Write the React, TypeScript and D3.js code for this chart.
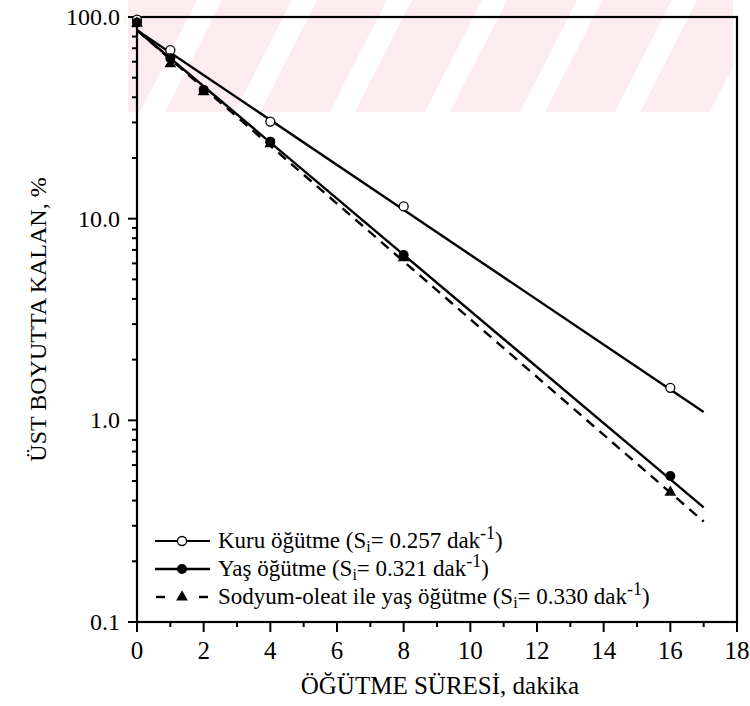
import React, { useRef, useEffect } from "react";
import * as d3 from "d3";

// grinding time, minutes
const times = [0, 1, 2, 4, 8, 16];
// % remaining in top size (null = point hidden in the original)
const kuru = [97, 68.5, null, 30.3, 11.5, 1.45];
const yas = [94, 62.5, 43.5, 24.1, 6.6, 0.53];
const sodyum = [93, 58.5, 42.5, 23.5, 6.4, 0.44];

// first-order fit lines (end points)
const fitTimes = [0, 17];
const kuruFit = [86, 1.1];
const yasFit = [86, 0.37];
const sodyumFit = [86, 0.315];

const xTicks = [0, 2, 4, 6, 8, 10, 12, 14, 16, 18];
const yTicks = [0.1, 1, 10, 100];
const yTickLabels = ["0.1", "1.0", "10.0", "100.0"];

const legendNames = ["Kuru öğütme", "Yaş öğütme", "Sodyum-oleat ile yaş öğütme"];
const legendRates = ["0.257", "0.321", "0.330"];

const FONT = "Liberation Serif, DejaVu Serif, serif";

const Chart = () => {
  const svgRef = useRef<SVGSVGElement>(null);
  const width = 750;
  const height = 706;
  const left = 137;
  const right = 737;
  const top = 17;
  const bottom = 622;

  useEffect(() => {
    const svg = d3.select(svgRef.current);
    svg.selectAll("*").remove();

    const x = d3.scaleLinear().domain([0, 18]).range([left, right]);
    const y = d3.scaleLog().domain([0.1, 100]).range([bottom, top]);

    // faint pink watermark stripes from the scan
    const defs = svg.append("defs");
    defs
      .append("clipPath")
      .attr("id", "wm")
      .append("rect")
      .attr("x", 128)
      .attr("y", 0)
      .attr("width", 605)
      .attr("height", 112);
    const wm = svg.append("g").attr("clip-path", "url(#wm)");
    d3.range(0, 9).forEach((i) => {
      const x0 = 70 + i * 95;
      wm.append("path")
        .attr("d", `M${x0},112 L${x0 + 70},112 L${x0 + 127},0 L${x0 + 57},0 Z`)
        .attr("fill", "#fdecef");
    });

    const g = svg.append("g").style("font-family", FONT);

    // frame
    g.append("rect")
      .attr("x", left)
      .attr("y", top)
      .attr("width", right - left)
      .attr("height", bottom - top)
      .attr("fill", "none")
      .attr("stroke", "#000")
      .attr("stroke-width", 2.2);

    // x ticks
    const xMinor = d3.range(1, 18, 2);
    g.selectAll(".xmaj")
      .data(xTicks)
      .enter()
      .append("line")
      .attr("x1", (d) => x(d))
      .attr("x2", (d) => x(d))
      .attr("y1", bottom)
      .attr("y2", bottom + 10)
      .attr("stroke", "#000")
      .attr("stroke-width", 2);
    g.selectAll(".xmin")
      .data(xMinor)
      .enter()
      .append("line")
      .attr("x1", (d) => x(d))
      .attr("x2", (d) => x(d))
      .attr("y1", bottom)
      .attr("y2", bottom + 5)
      .attr("stroke", "#000")
      .attr("stroke-width", 2);
    g.selectAll(".xlab")
      .data(xTicks)
      .enter()
      .append("text")
      .attr("x", (d) => x(d))
      .attr("y", bottom + 37)
      .attr("text-anchor", "middle")
      .style("font-family", FONT)
      .attr("font-size", 25)
      .text((d) => d);

    // y ticks
    const yMinor: number[] = [];
    [0.1, 1, 10].forEach((dec) => d3.range(2, 10).forEach((k) => yMinor.push(dec * k)));
    g.selectAll(".ymaj")
      .data(yTicks)
      .enter()
      .append("line")
      .attr("x1", left - 9)
      .attr("x2", left)
      .attr("y1", (d) => y(d))
      .attr("y2", (d) => y(d))
      .attr("stroke", "#000")
      .attr("stroke-width", 2);
    g.selectAll(".ymin")
      .data(yMinor)
      .enter()
      .append("line")
      .attr("x1", left - 5)
      .attr("x2", left)
      .attr("y1", (d) => y(d))
      .attr("y2", (d) => y(d))
      .attr("stroke", "#000")
      .attr("stroke-width", 2);
    g.selectAll(".ylab")
      .data(yTicks)
      .enter()
      .append("text")
      .attr("x", left - 17)
      .attr("y", (d) => y(d) + 8)
      .attr("text-anchor", "end")
      .style("font-family", FONT)
      .attr("font-size", 24)
      .text((d, i) => yTickLabels[i]);

    // axis titles
    g.append("text")
      .attr("x", 440)
      .attr("y", bottom + 72)
      .attr("text-anchor", "middle")
      .style("font-family", FONT)
      .attr("font-size", 25)
      .text("ÖĞÜTME SÜRESİ, dakika");
    g.append("text")
      .attr("transform", `translate(46,${(top + bottom) / 2}) rotate(-90)`)
      .attr("text-anchor", "middle")
      .style("font-family", FONT)
      .attr("font-size", 24)
      .text("ÜST BOYUTTA KALAN, %");

    // fit lines
    const line = d3
      .line<number>()
      .x((d, i) => x(fitTimes[i]))
      .y((d) => y(d));
    const fits = [kuruFit, yasFit, sodyumFit];
    fits.forEach((f, i) => {
      g.append("path")
        .attr("d", line(f))
        .attr("fill", "none")
        .attr("stroke", "#000")
        .attr("stroke-width", 2.4)
        .attr("stroke-dasharray", i === 2 ? "10,7" : null);
    });

    const tri = d3.symbol().type(d3.symbolTriangle).size(60);

    // markers
    g.selectAll(".kuru")
      .data(kuru.map((v, i) => ({ t: times[i], v })).filter((p) => p.v != null))
      .enter()
      .append("circle")
      .attr("cx", (d) => x(d.t))
      .attr("cy", (d) => y(d.v as number))
      .attr("r", 4.5)
      .attr("fill", "#fff")
      .attr("stroke", "#000")
      .attr("stroke-width", 1.3);
    g.selectAll(".sod")
      .data(sodyum)
      .enter()
      .append("path")
      .attr("d", tri())
      .attr("transform", (d, i) => `translate(${x(times[i])},${y(d)})`)
      .attr("fill", "#000");
    g.selectAll(".yas")
      .data(yas)
      .enter()
      .append("circle")
      .attr("cx", (d, i) => x(times[i]))
      .attr("cy", (d) => y(d))
      .attr("r", 5)
      .attr("fill", "#000");

    // legend
    const lg = g.append("g");
    const rowY = [541, 569, 597];
    legendNames.forEach((name, i) => {
      const ly = rowY[i];
      if (i < 2) {
        lg.append("line")
          .attr("x1", 155)
          .attr("x2", 210)
          .attr("y1", ly)
          .attr("y2", ly)
          .attr("stroke", "#000")
          .attr("stroke-width", i === 0 ? 2 : 2.4);
      } else {
        [[156, 165], [199, 208]].forEach(([a, b]) => {
          lg.append("line")
            .attr("x1", a)
            .attr("x2", b)
            .attr("y1", ly)
            .attr("y2", ly)
            .attr("stroke", "#000")
            .attr("stroke-width", 2.4);
        });
      }
      if (i === 0) {
        lg.append("circle")
          .attr("cx", 182)
          .attr("cy", ly)
          .attr("r", 4.5)
          .attr("fill", "#fff")
          .attr("stroke", "#000")
          .attr("stroke-width", 1.3);
      } else if (i === 1) {
        lg.append("circle").attr("cx", 182).attr("cy", ly).attr("r", 5).attr("fill", "#000");
      } else {
        lg.append("path")
          .attr("d", tri())
          .attr("transform", `translate(182,${ly})`)
          .attr("fill", "#000");
      }
      const t = lg
        .append("text")
        .attr("x", 218)
        .attr("y", ly + 7)
        .style("font-family", FONT)
        .attr("font-size", 23);
      t.append("tspan").text(`${name} (S`);
      t.append("tspan").attr("font-size", 16).attr("dy", 4).text("i");
      t.append("tspan").attr("dy", -4).text(`= ${legendRates[i]} dak`);
      t.append("tspan").attr("font-size", 18).attr("dy", -9).text("-1");
      t.append("tspan").attr("dy", 9).text(")");
    });
  }, []);

  return (
    <svg
      ref={svgRef}
      width={width}
      height={height}
      style={{ position: "absolute", left: 0, top: 0, background: "#fff" }}
    />
  );
};

export default function App() {
  return <Chart />;
}
